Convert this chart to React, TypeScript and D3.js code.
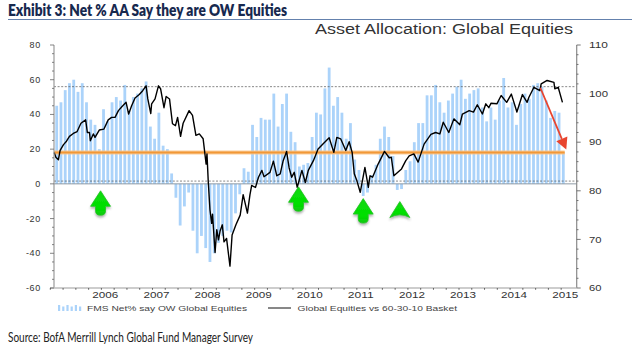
import React from "react";
import * as d3 from "d3";

const fmsNet = [45,47,54,58,60,53,58,47,37,34,20,43,36,47,50,48,57,42,50,52,55,59,33,26,41,22,20,6,-8,-24,-13,-5,-27,-40,-30,-37,-45,-40,-34,-30,-27,-28,-17,-6,9,7,34,27,38,37,37,52,33,46,52,30,24,10,11,12,27,41,40,55,67,45,50,41,26,35,14,8,-7,-5,5,11,26,33,27,16,-3.5,-3,8,13,24,35,35,51,51,57,47,41,48,52,56,60,49,52,54,55,44,36,44,37,48,61,44,47,34,46,52,49,57,58,56,48,38,42,41,18];

const basketMonths = [-0.6,-0.2,0.4,0.8,1.6,2.3,3,3.9,4.8,5.7,6.8,7.2,7.7,7.9,8.6,9,10,11.1,12.1,12.9,13.7,14.5,15.3,16.3,16.9,17.6,18.4,19.4,20.2,21,21.4,22.1,22.3,23.1,23.9,24.4,25.2,25.7,26.5,27.2,27.9,28.4,29.1,29.7,31.1,31.9,32.7,33.5,34.4,35.1,35.3,35.6,36,36.4,36.6,37.2,37.6,38,38.4,38.9,39.3,39.9,40.7,41.2,42.1,43.1,43.8,44.8,45.4,45.8,46.2,46.7,47.4,48.2,48.7,50.1,50.9,51.7,52.5,53.2,54,54.6,55.2,55.8,56.5,57.6,58.4,59.1,60.3,61.4,62.6,64,65.1,65.8,66.7,67.9,68.7,69.4,69.9,70.5,71.3,72.4,73.2,73.6,74.2,75.5,77,78.1,78.6,79.2,81,82,82.8,83.9,84.9,86.3,87.9,89,90,90.8,92.1,93.3,94.7,95.3,96.9,97.9,98.8,100,100.8,101.5,102,103.4,104.4,105.7,106.8,108.1,109.4,110.5,110.9,112.1,113.5,113.8,115.2,116.8,117,117.8,118.8];
const basketValues = [87.9,86.9,86.4,88.3,89.5,90.2,91.2,91.8,92.2,93.9,94.6,92,92,90.3,91.7,91,92.5,92.7,94.6,95.1,95.1,96.5,97.3,98.2,95.8,97.5,99.1,99.8,100.6,101.6,98.9,95.9,97.9,98.9,101.6,101,97.1,99.4,98.9,93.8,93.4,95.1,91.2,93.9,96.5,95.5,91.4,91.7,90.7,85.5,87.6,81.9,76.1,73.3,75.2,67.3,72,69.9,71.8,73,69.5,70.2,64.5,70.9,73,75,79.2,75.4,79.2,81.1,80.9,80.7,82.8,84.2,82.9,83.8,86.1,83.1,83.5,86.2,88.1,84.7,82.8,83.8,80.7,84.2,81.7,84.2,86.2,88.6,89.7,90.9,87.9,91,90.7,88.3,90.1,87.9,83.5,82.1,79.7,84.8,80.7,83.1,82.8,85.5,88.1,86.8,86.9,83.1,84.5,86.2,87.2,87.6,85.9,89.6,91.6,92,91.7,94.1,92,94.8,93.6,95.8,96.5,96.2,97.7,95.8,97.9,97.1,98,97.9,99.6,98.2,99.9,96.2,99.8,98.2,99.2,101.3,100.6,102,102.7,102.3,101,101.3,98.2];

const yearLabels = ["2006","2007","2008","2009","2010","2011","2012","2013","2014","2015"];
const leftTicks = [80,60,40,20,0,-20,-40,-60];
const rightTicks = [110,100,90,80,70,60];
const dashedLevels = [56,1.6];
const averageLevel = 18;
const greenArrowMonths = [10.3,56.8,72,80.6];
const greenArrowTips = [-4,-1.7,-8.5,-10.2];
const greenArrowStems = [true,true,true,false];
const redArrowMonths = [113.6,119.7];
const redArrowValues = [101.2,88.5];

const W = 634, H = 356;
const left = 54, right = 576.7, top = 45, bottom = 288;
const x = d3.scaleLinear().domain([0,119]).range([56.7,563.3]);
const yL = d3.scaleLinear().domain([-60,80]).range([bottom,top]);
const yR = d3.scaleLinear().domain([60,110]).range([bottom,top]);
const sans = "'Liberation Sans', Arial, sans-serif";
const human = "Lato, 'Open Sans', sans-serif";

function GreenArrow({m, tip, stem}:{m:number,tip:number,stem:boolean}) {
  const cx = x(m), ty = yL(tip);
  const p = d3.path();
  if (stem) {
    p.moveTo(cx,ty);
    p.lineTo(cx+10,ty+15.5);
    p.lineTo(cx+5,ty+15.5);
    p.lineTo(cx+5,ty+20);
    p.quadraticCurveTo(cx+5,ty+24.5,cx,ty+24.5);
    p.quadraticCurveTo(cx-5,ty+24.5,cx-5,ty+20);
    p.lineTo(cx-5,ty+15.5);
    p.lineTo(cx-10,ty+15.5);
  } else {
    p.moveTo(cx,ty);
    p.lineTo(cx+10,ty+16);
    p.quadraticCurveTo(cx,ty+10.5,cx-10,ty+16);
  }
  p.closePath();
  return <path d={p.toString()} fill="url(#greenFill)" stroke="#1fc41f" strokeWidth={0.8} strokeLinejoin="round" filter="url(#arrowShadow)"/>;
}

export default function App() {
  const line = d3.line<number>().x((_,i)=>x(basketMonths[i])).y(d=>yR(d)).curve(d3.curveLinear);
  const x1 = x(redArrowMonths[0]), y1 = yR(redArrowValues[0]);
  const x2 = x(redArrowMonths[1]), y2 = yR(redArrowValues[1]);
  const ang = Math.atan2(y2-y1,x2-x1);
  const hl = 11.5, hw = 6;
  const bx = x2-hl*Math.cos(ang), by = y2-hl*Math.sin(ang);
  const head = [[x2,y2],[bx-hw*Math.sin(ang),by+hw*Math.cos(ang)],[bx+hw*Math.sin(ang),by-hw*Math.cos(ang)]];
  const quarterTicks = d3.range(-1.5,121,3);
  return (
    <svg width={W} height={H} viewBox={`0 0 ${W} ${H}`} style={{position:"absolute",left:0,top:0,background:"#fff"}}>
      <defs>
        <linearGradient id="greenFill" x1="0" y1="0" x2="0" y2="1">
          <stop offset="0" stopColor="#12d812"/><stop offset="0.7" stopColor="#00e000"/><stop offset="1" stopColor="#10c810"/>
        </linearGradient>
        <filter id="arrowShadow" x="-30%" y="-20%" width="160%" height="150%">
          <feDropShadow dx="0" dy="2" stdDeviation="1.2" floodColor="#555" floodOpacity="0.45"/>
        </filter>
      </defs>

      <text x={8} y={16} fontFamily={human} fontWeight={800} fontSize={16.5} fill="#17294f" textLength={279} lengthAdjust="spacingAndGlyphs">Exhibit 3: Net % AA Say they are OW Equities</text>
      <line x1={8} x2={632} y1={19.5} y2={19.5} stroke="#6481ad" strokeWidth={1}/>
      <text x={315} y={33.5} fontFamily={sans} fontSize={14} fill="#333" textLength={258} lengthAdjust="spacingAndGlyphs">Asset Allocation: Global Equities</text>

      {fmsNet.map((v,i)=>(
        <rect key={i} x={x(i)-1.4} width={2.8} y={Math.min(yL(v),yL(0))} height={Math.abs(yL(v)-yL(0))} fill="#abd3fa"/>
      ))}

      {dashedLevels.map(l=>(
        <line key={l} x1={left} x2={right} y1={yL(l)} y2={yL(l)} stroke="#555" strokeWidth={0.7} strokeDasharray="2 1.6"/>
      ))}
      <line x1={left} x2={right} y1={yL(0)} y2={yL(0)} stroke="#8f9aa5" strokeWidth={1}/>

      <line x1={left} x2={x(119)+1.4} y1={yL(averageLevel)} y2={yL(averageLevel)} stroke="#fbc48a" strokeOpacity={0.85} strokeWidth={4}/>
      <line x1={left} x2={x(119)+1.4} y1={yL(averageLevel)} y2={yL(averageLevel)} stroke="#f0922c" strokeOpacity={0.9} strokeWidth={2}/>

      <path d={line(basketValues) as string} fill="none" stroke="#000" strokeWidth={1.4} strokeLinejoin="round"/>

      <line x1={x1} y1={y1} x2={bx} y2={by} stroke="#e8452f" strokeWidth={1.8}/>
      <polygon points={head.map(p=>p.join(",")).join(" ")} fill="#e8452f"/>

      {greenArrowMonths.map((m,i)=>(
        <GreenArrow key={i} m={m} tip={greenArrowTips[i]} stem={greenArrowStems[i]}/>
      ))}

      <line x1={left} x2={left} y1={top} y2={bottom} stroke="#9a9a9a" strokeWidth={1.2}/>
      <line x1={right} x2={right} y1={top} y2={bottom} stroke="#8a8a8a" strokeWidth={1.2}/>
      <line x1={50} x2={right} y1={bottom} y2={bottom} stroke="#bdbdbd" strokeWidth={1.6}/>

      {d3.range(-60,81,5).map(t=>(
        <line key={t} x1={t%20===0?50:52} x2={left} y1={yL(t)} y2={yL(t)} stroke="#666" strokeWidth={0.8}/>
      ))}
      {d3.range(60,111,2).map(t=>(
        <line key={t} x1={right} x2={t%10===0?right+4:right+1.8} y1={yR(t)} y2={yR(t)} stroke="#555" strokeWidth={0.8}/>
      ))}
      {quarterTicks.map(m=>(
        <line key={m} x1={x(m)} x2={x(m)} y1={bottom} y2={bottom+1.8} stroke="#444" strokeWidth={0.8}/>
      ))}

      <g fontFamily={sans} fontSize={9} fill="#333">
        {leftTicks.map(t=>(
          <text key={t} x={41} y={yL(t)+3} textAnchor="end" letterSpacing={0.7}>{t}</text>
        ))}
        {rightTicks.map(t=>(
          <text key={t} x={589} y={yR(t)+3.2} fontSize={9.5} textLength={t===110||t===100?19:12.5} lengthAdjust="spacingAndGlyphs">{t}</text>
        ))}
        {yearLabels.map((l,i)=>(
          <text key={l} x={x(12*(i+1))-2.4} y={298} textAnchor="middle" fontSize={9} textLength={26} lengthAdjust="spacingAndGlyphs">{l}</text>
        ))}
      </g>

      {d3.range(6).map(i=>(
        <rect key={i} x={58+i*4.2} width={2.2} y={i%2===0?305:306.5} height={i%2===0?6:4.5} fill="#abd3fa"/>
      ))}
      <text x={87} y={311} fontFamily={sans} fontSize={8} fill="#444" textLength={160} lengthAdjust="spacingAndGlyphs">FMS Net% say OW Global Equities</text>
      <line x1={268} x2={291} y1={308} y2={308} stroke="#111" strokeWidth={1}/>
      <text x={297.5} y={311} fontFamily={sans} fontSize={8} fill="#444" textLength={159.5} lengthAdjust="spacingAndGlyphs">Global Equities vs 60-30-10 Basket</text>

      <text x={8} y={342} fontFamily={human} fontSize={13} fill="#222" textLength={245} lengthAdjust="spacingAndGlyphs">Source: BofA Merrill Lynch Global Fund Manager Survey</text>
    </svg>
  );
}
